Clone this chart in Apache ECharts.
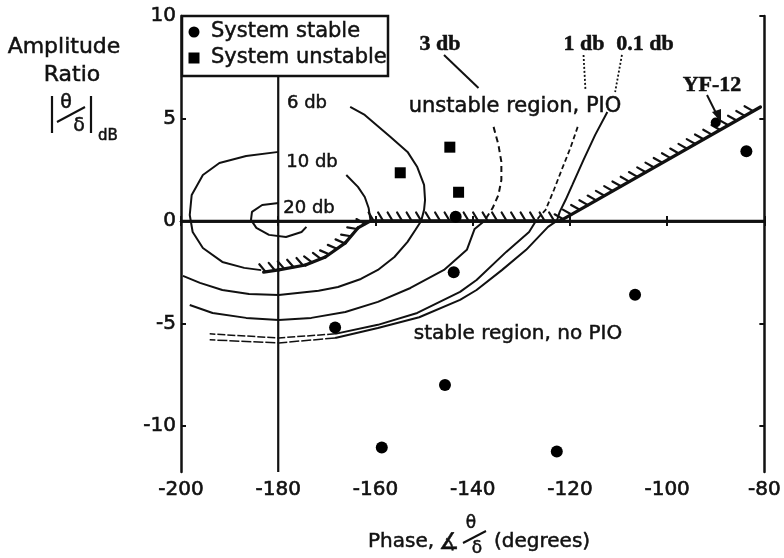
<!DOCTYPE html>
<html>
<head>
<meta charset="utf-8">
<script src="https://cdn.jsdelivr.net/npm/echarts@6/dist/echarts.min.js"></script>
<style>
  html, body { margin: 0; padding: 0; background: #fff; }
  #chart { width: 784px; height: 558px; }
</style>
</head>
<body>
<div id="chart"></div>
<script>
// Axis ticks: phase (deg) and amplitude ratio (dB)
const phaseTicks = [-200, -180, -160, -140, -120, -100, -80];
const gainTicks = [-10, -5, 0, 5, 10];

// Flight-test configurations [phase deg, amplitude dB]
const stablePts = [
  [-143.5, 0.2], [-143.9, -2.5], [-168.3, -5.2], [-145.7, -8.0],
  [-158.7, -11.05], [-122.7, -11.25], [-106.6, -3.6], [-83.7, 3.4]
];
const unstablePts = [[-154.9, 2.35], [-144.7, 3.6], [-142.9, 1.4]];
const yf12Pt = [[-90.0, 4.8]];

// Closed-loop magnitude contours, drawn piecewise
const m20 = [[-179.9, 0.88], [-183.3, 0.78], [-185.4, 0.44], [-185.6, 0.05], [-184.5, -0.34],
  [-181.9, -0.68], [-178.4, -0.78], [-175.2, -0.54], [-174.2, -0.29]];
const m10Left = [[-179.9, 3.37], [-186.6, 3.17], [-192.1, 2.83], [-195.5, 2.24], [-197.8, 1.27],
  [-198.2, 0.29], [-197.6, -0.54], [-195.5, -1.32], [-191.5, -2.0], [-187.0, -2.29], [-183.5, -2.4]];
const m10Right = [[-166.0, 2.24], [-163.6, 1.66], [-162.2, 1.17], [-161.4, 0.63], [-161.0, 0]];
const m6 = [[-165.2, 5.56], [-162.2, 5.17], [-156.9, 4.1], [-153.4, 3.37], [-151.4, 2.63],
  [-150.0, 1.76], [-149.8, 1.02], [-150.0, 0.54], [-150.6, 0], [-151.8, -0.44], [-153.4, -1.02],
  [-156.1, -1.76], [-159.5, -2.39], [-163.0, -2.83], [-167.7, -3.22], [-171.7, -3.41],
  [-179.9, -3.61], [-186.0, -3.56], [-191.5, -3.37], [-196.1, -3.02], [-199.6, -2.68]];
const m3Leader = [[-145.9, 8.1], [-138.8, 6.49]];
const m3Upper = [[-135.7, 4.59], [-134.7, 3.71], [-134.1, 2.88], [-134.1, 2.0], [-134.7, 1.27],
  [-135.9, 0.63], [-137.6, 0]];
const m3Lower = [[-137.6, 0], [-139.6, -0.39], [-141.2, -1.41], [-145.9, -2.39], [-152.8, -3.27],
  [-159.5, -3.95], [-166.2, -4.44], [-173.2, -4.73], [-179.9, -4.83], [-186.6, -4.73],
  [-193.5, -4.49], [-198.2, -4.1]];
const m1Top = [[-117.2, 8.1], [-116.8, 6.39]];
const m1Upper = [[-118.4, 4.59], [-119.9, 3.56], [-121.7, 2.49], [-123.3, 1.51], [-125.0, 0.54],
  [-126.0, 0.29], [-127.0, 0]];
const m1Lower = [[-127.0, 0], [-128.4, -0.54], [-133.1, -1.51], [-139.2, -2.88], [-142.6, -3.46],
  [-151.4, -4.49], [-159.5, -5.07], [-168.3, -5.51]];
const m1Tail = [[-168.3, -5.51], [-179.9, -5.71], [-194.1, -5.51]];
const m01Top = [[-109.3, 8.1], [-110.7, 6.29]];
const m01Upper = [[-112.3, 5.32], [-114.8, 4.2], [-117.2, 2.98], [-119.5, 1.76], [-120.9, 1.02],
  [-122.1, 0.44], [-122.7, 0]];
const m01Lower = [[-122.7, 0], [-124.5, -0.29], [-129.0, -1.41], [-134.0, -2.4], [-139.2, -3.37],
  [-142.6, -3.85], [-151.0, -4.7], [-159.5, -5.22], [-168.3, -5.71]];
const m01Tail = [[-168.3, -5.71], [-179.9, -5.95], [-194.1, -5.8]];

// PIO boundary: along the 10 dB contour, the 0 dB line, then the sloped line
const pioBoundary = [[-183.0, -2.5], [-179.9, -2.39], [-174.4, -2.15], [-170.3, -1.76],
  [-166.2, -1.07], [-163.6, -0.34], [-161.0, 0], [-122.0, 0], [-80.8, 5.56]];

// Reference lines
const zeroLine = [[-200, 0], [-80, 0]];
const phase180Line = [[-180, 10], [-180, -12.25]];

const INK = '#111';
const chart = echarts.init(document.getElementById('chart'), null, { renderer: 'canvas' });

function curve(data, width, type) {
  return {
    type: 'line', data: data, showSymbol: false, silent: true, clip: true,
    lineStyle: { color: INK, width: width, type: type || 'solid' }, z: 3
  };
}

function dist(a, b) { return Math.hypot(b[0] - a[0], b[1] - a[1]); }

// Boundary segment with hatch marks on its left-hand side
function hatchItem(params, api) {
  const i = params.dataIndex;
  if (i >= pioBoundary.length - 1) return null;
  const pts = pioBoundary.map(p => api.coord(p));
  let offset = 0;
  for (let k = 0; k < i; k++) offset += dist(pts[k], pts[k + 1]);
  const a = pts[i], b = pts[i + 1];
  const len = dist(a, b);
  const tx = (b[0] - a[0]) / len, ty = (b[1] - a[1]) / len;
  const nx = ty, ny = -tx;
  const step = 9.5, size = 8.5;
  const children = [];
  let s = (step - (offset % step)) % step + 2;
  for (; s < len; s += step) {
    const px = a[0] + tx * s, py = a[1] + ty * s;
    const ex = px + nx * size - tx * size * 0.6, ey = py + ny * size - ty * size * 0.6;
    children.push({ type: 'line', shape: { x1: px, y1: py, x2: ex, y2: ey },
      style: { stroke: INK, lineWidth: 2.2, lineCap: 'round' } });
  }
  children.push({ type: 'line', shape: { x1: a[0], y1: a[1], x2: b[0], y2: b[1] },
    style: { stroke: INK, lineWidth: 3.2, lineCap: 'round' } });
  return { type: 'group', children: children };
}

const tickFont = { fontFamily: 'DejaVu Sans', fontSize: 20, color: INK,
  textBorderColor: INK, textBorderWidth: 0.6 };
const sans = 'DejaVu Sans';
const serif = 'Liberation Serif';

function txt(x, y, s, size, family, extra) {
  const e = extra || {};
  return {
    type: 'text', x: x, y: y, z: 10,
    style: { text: s, font: (e.weight ? e.weight + ' ' : '') + size + 'px "' + family + '"',
      fill: INK, stroke: INK, lineWidth: e.bold === false ? 0 : 0.5,
      textAlign: e.align || 'center', textVerticalAlign: 'middle' }
  };
}
function seg(x1, y1, x2, y2, w) {
  return { type: 'line', z: 10, shape: { x1: x1, y1: y1, x2: x2, y2: y2 },
    style: { stroke: INK, lineWidth: w || 2 } };
}

const option = {
  animation: false,
  backgroundColor: '#fff',
  grid: { left: 181, right: 13, top: 16, bottom: 86 },
  xAxis: [{
    type: 'value', min: -200, max: -80, interval: 20,
    axisLine: { show: true, lineStyle: { color: INK, width: 2.5 } },
    axisTick: { show: true, inside: true, length: 5, lineStyle: { color: INK, width: 2 } },
    axisLabel: Object.assign({ margin: 8, customValues: phaseTicks }, tickFont),
    splitLine: { show: false }
  }, {
    type: 'value', position: 'top', min: -200, max: -80, interval: 20,
    axisLine: { show: true, lineStyle: { color: INK, width: 2.5 } },
    axisTick: { show: true, inside: true, length: 5, lineStyle: { color: INK, width: 2 } },
    axisLabel: { show: false }, splitLine: { show: false }
  }],
  yAxis: [{
    type: 'value', min: -12.25, max: 10,
    axisLine: { show: true, lineStyle: { color: INK, width: 2.5 } },
    axisTick: { show: true, inside: true, length: 5, customValues: gainTicks, lineStyle: { color: INK, width: 2 } },
    axisLabel: Object.assign({ margin: 5, customValues: gainTicks }, tickFont),
    splitLine: { show: false }
  }, {
    type: 'value', position: 'right', min: -12.25, max: 10,
    axisLine: { show: true, lineStyle: { color: INK, width: 2.5 } },
    axisTick: { show: true, inside: true, length: 5, customValues: gainTicks, lineStyle: { color: INK, width: 2 } },
    axisLabel: { show: false }, splitLine: { show: false }
  }],
  series: [
    curve(zeroLine, 2.6),
    curve(phase180Line, 2.2),
    curve(m20, 2), curve(m10Left, 2), curve(m10Right, 2), curve(m6, 2),
    curve(m3Leader, 2), curve(m3Upper, 2, [6, 4]), curve(m3Lower, 2),
    curve(m1Top, 1.8, [2, 2]), curve(m1Upper, 1.8, [5, 3]), curve(m1Lower, 2), curve(m1Tail, 1.5, [8, 2]),
    curve(m01Top, 1.8, [2, 2]), curve(m01Upper, 2), curve(m01Lower, 2), curve(m01Tail, 1.5, [10, 2]),
    {
      type: 'custom', data: pioBoundary, renderItem: hatchItem, silent: true, clip: true, z: 4
    },
    {
      type: 'scatter', data: stablePts, symbol: 'circle', symbolSize: 12, silent: true, z: 5,
      itemStyle: { color: '#000', opacity: 1 }
    },
    {
      type: 'scatter', data: unstablePts, symbol: 'rect', symbolSize: 11, silent: true, z: 5,
      itemStyle: { color: '#000', opacity: 1 }
    },
    {
      type: 'scatter', data: yf12Pt, symbol: 'circle', symbolSize: 10, silent: true, z: 5,
      itemStyle: { color: '#000', opacity: 1 }
    }
  ],
  graphic: [
    // legend box
    { type: 'rect', z: 9, shape: { x: 182, y: 16, width: 206, height: 60 },
      style: { fill: '#fff', stroke: INK, lineWidth: 2.5 } },
    { type: 'circle', z: 10, shape: { cx: 194, cy: 32, r: 5.5 }, style: { fill: '#000' } },
    { type: 'rect', z: 10, shape: { x: 188.5, y: 52.5, width: 11, height: 11 }, style: { fill: '#000' } },
    txt(211, 32, 'System stable', 21, sans, { align: 'left' }),
    txt(211, 58, 'System unstable', 21, sans, { align: 'left' }),
    // contour labels
    txt(307, 103, '6 db', 18, sans),
    txt(312, 162, '10 db', 18, sans),
    txt(309, 208, '20 db', 18, sans),
    txt(440, 44, '3 db', 22, serif, { weight: 'bold' }),
    txt(584, 44, '1 db', 22, serif, { weight: 'bold' }),
    txt(645, 44, '0.1 db', 22, serif, { weight: 'bold' }),
    // region notes
    txt(515, 107, 'unstable region, PIO', 21, sans),
    txt(518, 334, 'stable region, no PIO', 20, sans),
    // YF-12 callout
    txt(712, 85, 'YF-12', 22, serif, { weight: 'bold' }),
    seg(707, 95, 718, 117, 2),
    { type: 'polygon', z: 10, shape: { points: [[721, 122], [712, 112], [721, 109]] }, style: { fill: INK } },
    // y-axis title
    txt(64, 47, 'Amplitude', 22, sans),
    txt(72, 75, 'Ratio', 22, sans),
    seg(52, 96, 52, 133, 2.2),
    seg(91, 96, 91, 133, 2.2),
    txt(66, 103, 'θ', 19, sans),
    seg(57, 122, 85, 107, 2),
    txt(79, 126, 'δ', 19, sans),
    txt(108, 136, 'dB', 15, sans),
    // x-axis title
    txt(368, 542, 'Phase,', 20, sans, { align: 'left' }),
    txt(449, 543, '∡', 23, sans),
    txt(471, 524, 'θ', 17, sans),
    seg(463, 543, 486, 531, 2),
    txt(477, 549, 'δ', 17, sans),
    txt(494, 542, '(degrees)', 20, sans, { align: 'left' })
  ]
};

chart.setOption(option);
</script>
</body>
</html>
